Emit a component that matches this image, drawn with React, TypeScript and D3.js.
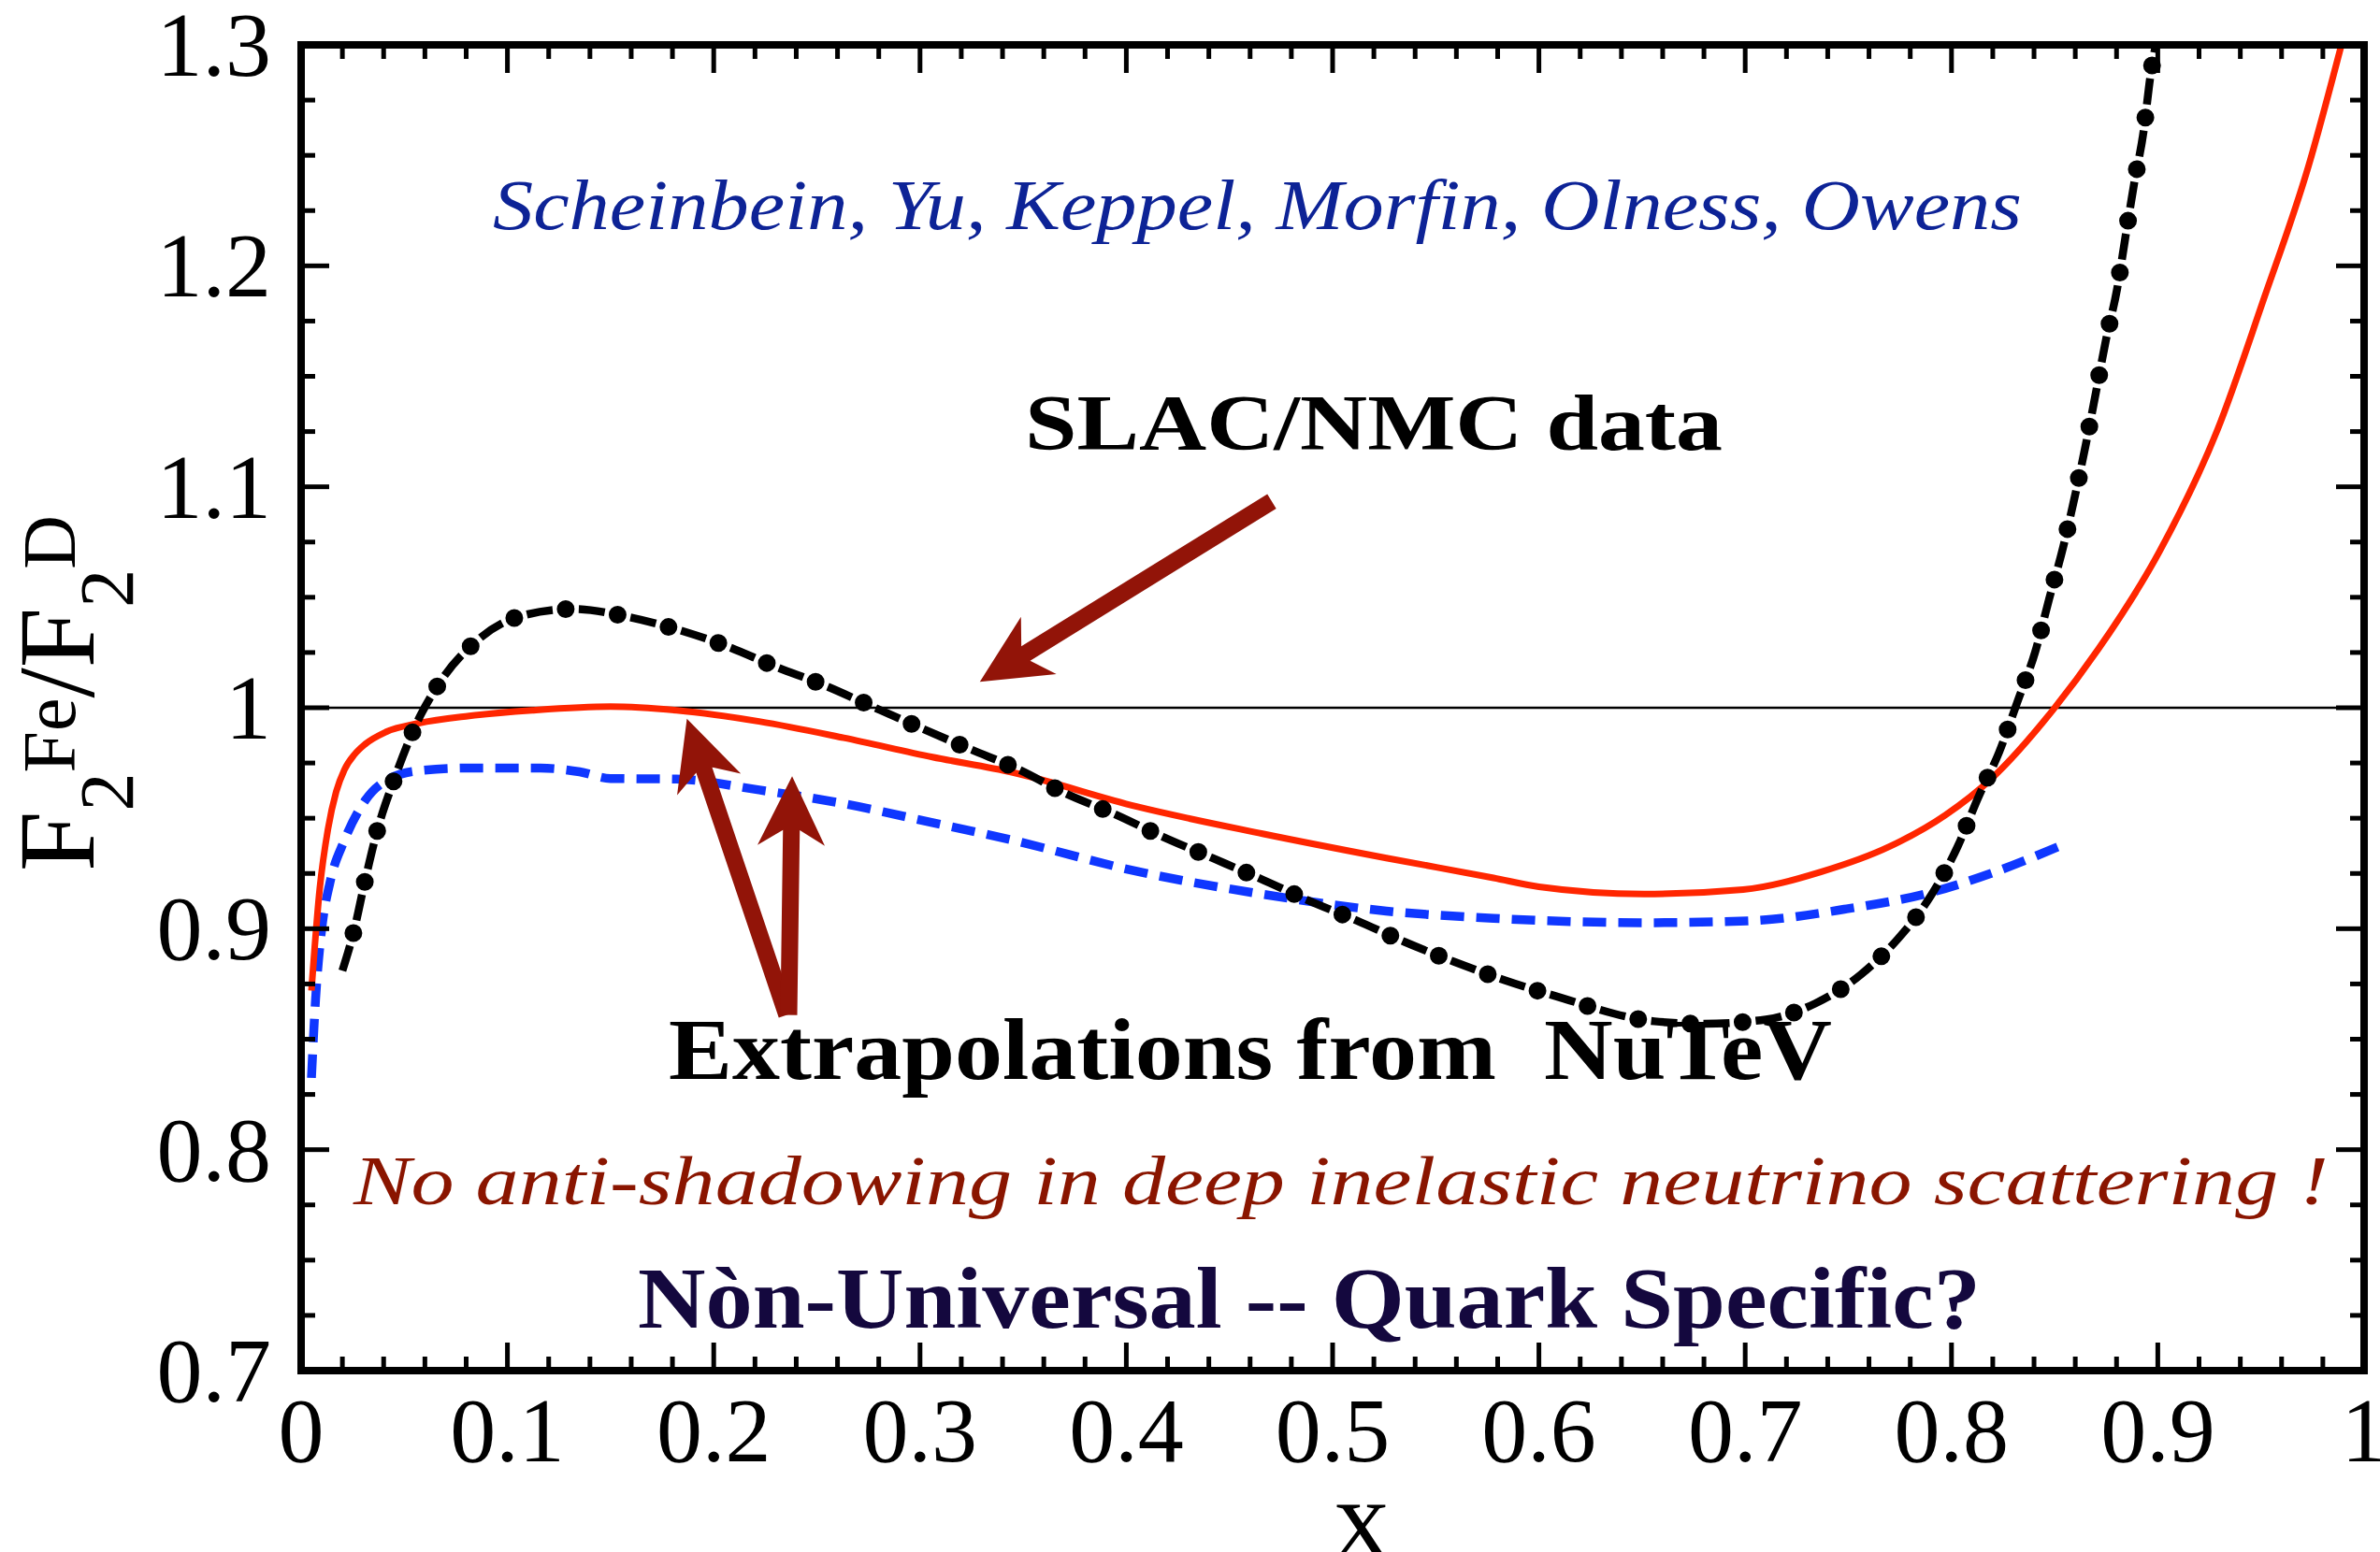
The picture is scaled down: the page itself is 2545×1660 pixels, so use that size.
import React from "react";
import * as d3 from "d3";

// ---- axis ticks ----
const xTicks = [0, 0.1, 0.2, 0.3, 0.4, 0.5, 0.6, 0.7, 0.8, 0.9, 1];
const xTickLabels = ["0", "0.1", "0.2", "0.3", "0.4", "0.5", "0.6", "0.7", "0.8", "0.9", "1"];
const yTicks = [0.7, 0.8, 0.9, 1.0, 1.1, 1.2, 1.3];
const yTickLabels = ["0.7", "0.8", "0.9", "1", "1.1", "1.2", "1.3"];

// ---- NuTeV extrapolation (solid red) ----
const nutevX = [0.005, 0.009, 0.013, 0.017, 0.021, 0.026, 0.031, 0.041, 0.057, 0.0815, 0.112, 0.15, 0.182, 0.222, 0.263, 0.306, 0.345, 0.405, 0.466, 0.526, 0.578, 0.6, 0.651, 0.699, 0.737, 0.77, 0.797, 0.819, 0.849, 0.871, 0.901, 0.929, 0.951, 0.973, 0.989];
const nutevY = [0.872, 0.918, 0.945, 0.962, 0.972, 0.979, 0.9835, 0.989, 0.993, 0.9963, 0.9988, 1.0005, 0.9988, 0.9938, 0.9864, 0.9777, 0.9707, 0.9553, 0.943, 0.932, 0.923, 0.919, 0.9157, 0.9177, 0.9258, 0.9372, 0.9514, 0.9676, 0.9988, 1.0263, 1.071, 1.126, 1.184, 1.245, 1.3];

// ---- NuTeV extrapolation, second fit (dashed blue) ----
const nutevBX = [0.005, 0.007, 0.01, 0.014, 0.021, 0.031, 0.043, 0.057, 0.0815, 0.116, 0.135, 0.15, 0.182, 0.222, 0.263, 0.306, 0.345, 0.405, 0.466, 0.526, 0.578, 0.651, 0.701, 0.748, 0.792, 0.819, 0.852];
const nutevBY = [0.8325, 0.868, 0.9, 0.921, 0.94, 0.958, 0.968, 0.9715, 0.9727, 0.9727, 0.971, 0.968, 0.9677, 0.9628, 0.9566, 0.948, 0.94, 0.926, 0.9156, 0.908, 0.9047, 0.9027, 0.9035, 0.9088, 0.9169, 0.925, 0.9372];

// ---- SLAC/NMC charged-lepton fit (black dash-dot) ----
const slacX = [0.02, 0.0256, 0.0312, 0.0372, 0.0453, 0.0549, 0.0674, 0.0845, 0.106, 0.132, 0.157, 0.182, 0.206, 0.23, 0.253, 0.277, 0.3, 0.325, 0.348, 0.371, 0.394, 0.4175, 0.4417, 0.465, 0.4885, 0.5117, 0.535, 0.559, 0.5835, 0.608, 0.656, 0.68, 0.71, 0.734, 0.756, 0.774, 0.79, 0.803, 0.813, 0.823, 0.832, 0.8405, 0.8474, 0.8542, 0.8597, 0.8652, 0.87, 0.8748, 0.8803, 0.8844, 0.8885, 0.8932, 0.8964, 0.899];
const slacY = [0.881, 0.899, 0.9226, 0.9454, 0.968, 0.9908, 1.0117, 1.0298, 1.0414, 1.0447, 1.0414, 1.0355, 1.028, 1.0186, 1.0104, 1.0005, 0.991, 0.981, 0.972, 0.961, 0.952, 0.9417, 0.932, 0.9226, 0.9127, 0.9037, 0.894, 0.885, 0.8767, 0.8695, 0.8581, 0.857, 0.8589, 0.8662, 0.8792, 0.8954, 0.9149, 0.9372, 0.9595, 0.9797, 1.0028, 1.0251, 1.0495, 1.073, 1.0953, 1.1196, 1.1427, 1.1662, 1.1897, 1.2136, 1.2371, 1.2615, 1.2858, 1.3];

// ---- annotation arrows (tail -> tip, data coordinates) ----
const arrowTailX = [0.4705, 0.2354, 0.2364];
const arrowTailY = [1.0934, 0.861, 0.861];
const arrowTipX = [0.329, 0.187, 0.238];
const arrowTipY = [1.0117, 0.995, 0.969];

const W = 2545;
const H = 1660;
const L = 322, R = 2528, T = 48, B = 1466;

const x = d3.scaleLinear().domain([0, 1]).range([L, R]);
const y = d3.scaleLinear().domain([0.7, 1.3]).range([B, T]);

const zip = (xs: number[], ys: number[]) => xs.map((v, i) => [v, ys[i]] as [number, number]);
const line = d3
  .line<[number, number]>()
  .x((d) => x(d[0]))
  .y((d) => y(d[1]))
  .curve(d3.curveMonotoneX);

function arrowPath(x0: number, y0: number, x1: number, y1: number) {
  const p0 = [x(x0), y(y0)];
  const p1 = [x(x1), y(y1)];
  const dx = p1[0] - p0[0];
  const dy = p1[1] - p0[1];
  const len = Math.hypot(dx, dy);
  const u = [dx / len, dy / len];
  const n = [-u[1], u[0]];
  const hw = 9, hl = 74, hh = 36, neckF = 0.78;
  const neck = [p1[0] - u[0] * hl * neckF, p1[1] - u[1] * hl * neckF];
  const base = [p1[0] - u[0] * hl, p1[1] - u[1] * hl];
  const pts = [
    [p0[0] + n[0] * hw, p0[1] + n[1] * hw],
    [neck[0] + n[0] * hw, neck[1] + n[1] * hw],
    [base[0] + n[0] * hh, base[1] + n[1] * hh],
    p1,
    [base[0] - n[0] * hh, base[1] - n[1] * hh],
    [neck[0] - n[0] * hw, neck[1] - n[1] * hw],
    [p0[0] - n[0] * hw, p0[1] - n[1] * hw],
  ];
  return "M" + pts.map((p) => p.join(",")).join("L") + "Z";
}

export default function App() {
  const xMinor = d3.range(0, 1.0001, 0.02).filter((v) => Math.abs(Math.round(v * 10) - v * 10) > 1e-6);
  const yMinor = d3.range(0.7, 1.3001, 0.025).filter((v) => Math.abs(Math.round(v * 10) - v * 10) > 1e-6);
  const major = 30, minor = 15;
  const serif = "'Liberation Serif', 'Times New Roman', serif";
  const slacPath = line(zip(slacX, slacY)) || "";

  return (
    <svg
      width={W}
      height={H}
      viewBox={`0 0 ${W} ${H}`}
      style={{ position: "absolute", left: 0, top: 0, background: "#fff" }}
    >
      <defs>
        <clipPath id="plot">
          <rect x={L} y={T} width={R - L} height={B - T} />
        </clipPath>
      </defs>
      <rect x={0} y={0} width={W} height={H} fill="#fff" />

      {/* reference line at ratio = 1 */}
      <line x1={L} x2={R} y1={y(1)} y2={y(1)} stroke="#000" strokeWidth={2.5} />

      <g clipPath="url(#plot)" fill="none">
        <path d={line(zip(nutevBX, nutevBY)) || ""} stroke="#0f37ff" strokeWidth={9.5} strokeDasharray="25 13" />
        <path d={line(zip(nutevX, nutevY)) || ""} stroke="#ff2600" strokeWidth={7} />
        <path d={slacPath} stroke="#000" strokeWidth={8.5} strokeDasharray="28 28" />
        <path
          d={slacPath}
          stroke="#000"
          strokeWidth={19}
          strokeLinecap="round"
          strokeDasharray="0 56"
          strokeDashoffset={-42}
        />
      </g>

      {/* arrows */}
      {arrowTailX.map((_, i) => (
        <path key={i} d={arrowPath(arrowTailX[i], arrowTailY[i], arrowTipX[i], arrowTipY[i])} fill="#921408" />
      ))}

      {/* ticks on all four sides */}
      <g stroke="#000" strokeWidth={5}>
        {xTicks.map((v) => (
          <g key={"xt" + v}>
            <line x1={x(v)} x2={x(v)} y1={B} y2={B - major} />
            <line x1={x(v)} x2={x(v)} y1={T} y2={T + major} />
          </g>
        ))}
        {xMinor.map((v) => (
          <g key={"xm" + v}>
            <line x1={x(v)} x2={x(v)} y1={B} y2={B - minor} />
            <line x1={x(v)} x2={x(v)} y1={T} y2={T + minor} />
          </g>
        ))}
        {yTicks.map((v) => (
          <g key={"yt" + v}>
            <line x1={L} x2={L + major} y1={y(v)} y2={y(v)} />
            <line x1={R} x2={R - major} y1={y(v)} y2={y(v)} />
          </g>
        ))}
        {yMinor.map((v) => (
          <g key={"ym" + v}>
            <line x1={L} x2={L + minor} y1={y(v)} y2={y(v)} />
            <line x1={R} x2={R - minor} y1={y(v)} y2={y(v)} />
          </g>
        ))}
      </g>

      {/* frame */}
      <rect x={L} y={T} width={R - L} height={B - T} fill="none" stroke="#000" strokeWidth={8} />

      {/* tick labels */}
      <g fontFamily={serif} fontSize={98} fill="#000">
        {xTicks.map((v, i) => (
          <text key={"xl" + v} x={x(v)} y={1563} textAnchor="middle">
            {xTickLabels[i]}
          </text>
        ))}
        {yTicks.map((v, i) => (
          <text key={"yl" + v} x={290} y={y(v) + 33} textAnchor="end">
            {yTickLabels[i]}
          </text>
        ))}
      </g>

      {/* axis titles */}
      <text x={1456} y={1664} fontFamily={serif} fontSize={118} textAnchor="middle">
        x
      </text>
      <text transform="translate(100,932) rotate(-90)" fontFamily={serif} fill="#000">
        <tspan fontSize={116}>F</tspan>
        <tspan fontSize={82} dy={42}>2</tspan>
        <tspan fontSize={80} dy={-62}>Fe</tspan>
        <tspan fontSize={116} dy={20}>/F</tspan>
        <tspan fontSize={82} dy={42}>2</tspan>
        <tspan fontSize={80} dy={-62}>D</tspan>
      </text>

      {/* annotations */}
      <text
        x={527}
        y={245}
        fontFamily={serif}
        fontStyle="italic"
        fontSize={76}
        fill="#0d2396"
        textLength={1635}
        lengthAdjust="spacingAndGlyphs"
      >
        Scheinbein, Yu, Keppel, Morfin, Olness, Owens
      </text>
      <text
        x={1096}
        y={481}
        fontFamily={serif}
        fontWeight="bold"
        fontSize={84}
        fill="#000"
        textLength={746}
        lengthAdjust="spacingAndGlyphs"
      >
        SLAC/NMC data
      </text>
      <text
        x={715}
        y={1154}
        fontFamily={serif}
        fontWeight="bold"
        fontSize={93}
        fill="#000"
        textLength={1244}
        lengthAdjust="spacingAndGlyphs"
        style={{ whiteSpace: "pre" }}
      >
        {"Extrapolations from  NuTeV"}
      </text>
      <text
        x={378}
        y={1288}
        fontFamily={serif}
        fontStyle="italic"
        fontSize={74}
        fill="#8a1500"
        textLength={2112}
        lengthAdjust="spacingAndGlyphs"
      >
        No anti-shadowing in deep inelastic neutrino scattering !
      </text>
      <text
        x={682}
        y={1420}
        fontFamily={serif}
        fontWeight="bold"
        fontSize={93}
        fill="#14083e"
        textLength={1436}
        lengthAdjust="spacingAndGlyphs"
      >
        Nòn-Universal -- Quark Specific?
      </text>
    </svg>
  );
}
